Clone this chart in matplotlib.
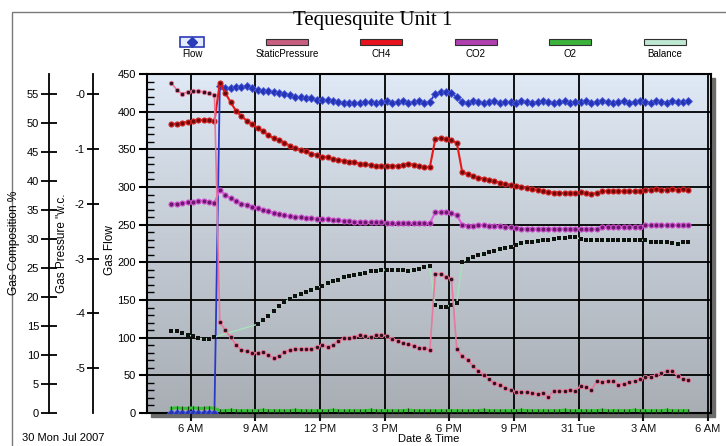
import numpy as np
import matplotlib.pyplot as plt
from matplotlib.patches import Rectangle
from matplotlib.lines import Line2D
from matplotlib.ticker import MultipleLocator
from matplotlib.colors import LinearSegmentedColormap

plt.rcParams['font.family'] = ['Liberation Sans', 'DejaVu Sans']

# samples every 15 min, hours counted from midnight 30 Jul 2007
start_hour = 5.1
step_hour = 0.25

flow = [0, 0, 0, 0, 0, 0, 0, 0, 0,
        434, 431, 432, 433, 433, 434, 431, 429, 428, 427, 426, 425, 424, 422, 420, 419, 418, 418, 416, 415, 415, 414, 413,
        412, 412, 411, 412, 413, 413, 412, 413, 414, 412, 413, 414, 412, 413, 414, 412, 413,
        424, 426, 426, 425, 419,
        413, 412, 414, 413, 412, 413, 414, 412, 413, 413, 412, 414, 413, 412, 413, 414, 413, 412, 413, 414,
        412, 413, 413, 414, 412, 413, 414, 413, 412, 413, 414, 412, 413, 414, 413, 412, 414, 413, 412, 414,
        413, 413, 414]

static_pressure = [0.21, 0.08, 0.01, 0.04, 0.06, 0.06, 0.04, 0.02, -0.01,
                   -4.16, -4.30, -4.43, -4.57, -4.67, -4.68, -4.72, -4.72, -4.70, -4.76,
                   -4.81, -4.78, -4.70, -4.67, -4.65, -4.65, -4.65, -4.65, -4.61, -4.57,
                   -4.61, -4.57, -4.50, -4.45, -4.45, -4.43, -4.39, -4.41, -4.43, -4.39,
                   -4.39, -4.41, -4.47, -4.50, -4.54, -4.56, -4.59, -4.63, -4.63, -4.67,
                   -3.28, -3.28, -3.33, -3.37,
                   -4.65, -4.78, -4.85, -4.96, -5.05, -5.12, -5.20, -5.27, -5.30, -5.36,
                   -5.40, -5.43, -5.43, -5.43, -5.45, -5.47, -5.45, -5.52, -5.41, -5.41,
                   -5.41, -5.40, -5.41, -5.32, -5.34, -5.40, -5.23, -5.25, -5.23, -5.23,
                   -5.30, -5.28, -5.25, -5.23, -5.20, -5.16, -5.16, -5.12, -5.09, -5.05,
                   -5.05, -5.14, -5.20, -5.21]

ch4 = [49.8, 49.9, 50.0, 50.2, 50.3, 50.5, 50.5, 50.5, 50.3,
       56.9, 55.2, 53.6, 52.1, 51.2, 50.4, 49.8, 49.1, 48.6, 47.9,
       47.4, 47.1, 46.6, 46.1, 45.7, 45.3, 45.1, 44.7, 44.5, 44.2,
       44.1, 43.8, 43.6, 43.5, 43.3, 43.2, 43.0, 42.9, 42.7, 42.6,
       42.6, 42.6, 42.6, 42.6, 42.8, 43.0, 42.8, 42.6, 42.4, 42.4,
       47.2, 47.4, 47.2, 47.0, 46.6,
       41.6, 41.2, 40.9, 40.6, 40.4, 40.2, 40.0, 39.7, 39.5, 39.3,
       39.1, 39.0, 38.8, 38.7, 38.4, 38.2, 38.1, 38.0, 38.0, 37.9,
       37.9, 37.9, 38.1, 37.9, 37.8, 37.9, 38.2, 38.3, 38.3, 38.2,
       38.3, 38.3, 38.2, 38.3, 38.5, 38.5, 38.6, 38.5, 38.5, 38.6,
       38.5, 38.6, 38.5]

co2 = [36.0, 36.1, 36.2, 36.3, 36.4, 36.6, 36.6, 36.4, 36.2,
       38.5, 37.6, 37.0, 36.6, 36.1, 35.9, 35.6, 35.3, 35.0, 34.8,
       34.5, 34.3, 34.1, 33.9, 33.8, 33.8, 33.7, 33.6, 33.5, 33.4,
       33.4, 33.3, 33.2, 33.1, 33.1, 33.0, 33.0, 32.9, 32.9, 32.9,
       32.9, 32.8, 32.7, 32.7, 32.8, 32.8, 32.8, 32.7, 32.7, 32.7,
       34.6, 34.7, 34.7, 34.4, 34.1,
       32.5, 32.2, 32.3, 32.4, 32.4, 32.3, 32.2, 32.2, 32.1, 32.0,
       31.9, 31.8, 31.8, 31.8, 31.8, 31.8, 31.8, 31.8, 31.8, 31.8,
       31.8, 31.8, 31.8, 31.7, 31.8, 31.8, 32.0, 32.1, 32.0, 32.1,
       32.0, 32.1, 32.1, 32.0, 32.4, 32.4, 32.4, 32.4, 32.4, 32.4,
       32.4, 32.4, 32.4]

o2 = [0.8, 0.9, 0.8, 0.8, 0.9, 0.8, 0.8, 0.9, 0.8,
      0.4, 0.4, 0.5, 0.4, 0.4, 0.4, 0.4, 0.4, 0.5, 0.4,
      0.4, 0.4, 0.4, 0.4, 0.5, 0.4, 0.4, 0.4, 0.4, 0.4,
      0.4, 0.5, 0.4, 0.4, 0.4, 0.4, 0.4, 0.4, 0.5, 0.4,
      0.4, 0.4, 0.4, 0.4, 0.4, 0.5, 0.4, 0.4, 0.4, 0.4,
      0.4, 0.4, 0.4, 0.4, 0.4,
      0.4, 0.4, 0.4, 0.4, 0.5, 0.4, 0.4, 0.4, 0.4, 0.4,
      0.4, 0.5, 0.4, 0.4, 0.4, 0.4, 0.4, 0.4, 0.4, 0.5,
      0.4, 0.4, 0.4, 0.4, 0.4, 0.4, 0.5, 0.4, 0.4, 0.4,
      0.4, 0.4, 0.5, 0.4, 0.4, 0.4, 0.4, 0.4, 0.5, 0.4,
      0.4, 0.4, 0.4]

nan = np.nan
balance = [14.1, 14.1, 13.8, 13.5, 13.2, 12.9, 12.8, 12.8, 13.1,
           nan, nan, nan, nan, nan, nan, nan,
           15.3, 16.0, 16.8, 17.6, 18.4, 19.1, 19.7, 20.1, 20.5, 20.9,
           21.2, 21.6, 21.9, 22.4, 22.7, 23.0, 23.4, 23.6, 23.8, 24.0,
           24.2, 24.4, 24.5, 24.6, 24.7, 24.7, 24.7, 24.6, 24.4, 24.6,
           24.9, 25.1, 25.3,
           18.6, 18.2, 18.3, 18.7, 19.0,
           26.0, 26.6, 26.9, 27.2, 27.5, 27.7, 27.9, 28.2, 28.4, 28.6,
           28.9, 29.3, 29.4, 29.5, 29.7, 29.8, 29.9, 30.0, 30.1, 30.2,
           30.3, 30.3, 30.0, 29.9, 29.8, 29.8, 29.9, 29.8, 29.8, 29.8,
           29.8, 29.9, 29.8, 29.8, 29.8, 29.5, 29.4, 29.4, 29.4, 29.3,
           29.1, 29.4, 29.4]

hours = start_hour + step_hour * np.arange(len(flow))

x_ticks = [6, 9, 12, 15, 18, 21, 24, 27, 30]
x_labels = ['6 AM', '9 AM', '12 PM', '3 PM', '6 PM', '9 PM', '31 Tue', '3 AM', '6 AM']
comp_ticks = list(range(0, 60, 5))
pres_ticks = [0, -1, -2, -3, -4, -5]
pres_labels = ['-0', '-1', '-2', '-3', '-4', '-5']

legend_names = ['Flow', 'StaticPressure', 'CH4', 'CO2', 'O2', 'Balance']
legend_colors = ['#e4eaff', '#c95f80', '#e8121c', '#b040b0', '#3cb43c', '#bfe8d2']

W, H = 726, 446
fig = plt.figure(figsize=(W / 100, H / 100), dpi=100)
fig.patch.set_facecolor('white')

ax_l, ax_b, ax_r, ax_t = 147, 413, 711, 74
ax = fig.add_axes([ax_l / W, 1 - ax_b / H, (ax_r - ax_l) / W, (ax_b - ax_t) / H])
xlim = (3.97, 30.15)

# background gradient
cmap = LinearSegmentedColormap.from_list('bg', ['#a9aeb5', '#c3cad3', '#dfe9f5'])
ax.imshow(np.linspace(0, 1, 256).reshape(-1, 1), cmap=cmap, origin='lower',
          extent=[xlim[0], xlim[1], 0, 450], aspect='auto', zorder=0)

# frame shadow + outer border
fig.add_artist(Rectangle(((ax_l + 4) / W, 1 - (ax_b + 4) / H), (ax_r - ax_l) / W, (ax_b - ax_t) / H,
                         transform=fig.transFigure, color='#6c6c6c', zorder=-1))
fig.add_artist(Rectangle((12 / W, -0.05), 1.0, 1.05 - 12 / H, transform=fig.transFigure,
                         fill=False, edgecolor='#7a7a7a', lw=1.0, zorder=-1))

ax.plot(hours, flow, color='#2a3ac8', lw=1.3, marker='D', ms=3.6,
        mfc='#2434b4', mec='#5060e0', mew=0.6, zorder=5)
ax.set_xlim(*xlim)
ax.set_ylim(0, 450)
ax.set_xticks(x_ticks)
ax.set_xticklabels(x_labels)
ax.yaxis.set_major_locator(MultipleLocator(50))
ax.yaxis.set_minor_locator(MultipleLocator(10))
ax.grid(True, color='black', lw=1.3)
ax.tick_params(axis='x', direction='out', length=6, width=1.5, labelsize=8, pad=2, colors='#111')
ax.tick_params(axis='y', which='major', direction='out', length=6, width=1.5, labelsize=8, pad=2)
ax.tick_params(axis='y', which='minor', direction='in', length=5, width=1)
for sp in ax.spines.values():
    sp.set_linewidth(1.5)
ax.set_xlabel('Date & Time', fontsize=8, labelpad=0)

# gas composition axis
ax_c = ax.twinx()
ax_c.set_ylim(0, 58.45)
ax_c.spines['left'].set_position(('axes', -0.174))
ax_c.yaxis.set_ticks_position('left')
for sp in ['top', 'right', 'bottom']:
    ax_c.spines[sp].set_visible(False)
ax_c.spines['left'].set_linewidth(1.3)
ax_c.set_yticks(comp_ticks)
ax_c.tick_params(axis='y', direction='inout', length=12, width=1.3, labelsize=8, pad=1)

ax_c.plot(hours, o2, color='#38c038', lw=2.2, marker='|', ms=3, mec='#1a3a1a', mew=0.8, zorder=3)
bal = np.array(balance)
ok = ~np.isnan(bal)
ax_c.plot(hours[ok], bal[ok], color='#a8e2bc', lw=1.0, marker='s', ms=2.6,
          mfc='#101010', mew=0, zorder=3)
ax_c.plot(hours, co2, color='#e060e0', lw=1.5, marker='o', ms=3.6,
          mfc='#6a1a6a', mec='#d050d0', mew=0.8, zorder=4)
ax_c.plot(hours, ch4, color='#e81818', lw=1.5, marker='o', ms=3.6,
          mfc='#6e0a0a', mec='#d82020', mew=0.8, zorder=4)

# gas pressure axis
ax_p = ax.twinx()
ax_p.set_ylim(-5.816, 0.37)
ax_p.spines['left'].set_position(('axes', -0.0964))
ax_p.yaxis.set_ticks_position('left')
for sp in ['top', 'right', 'bottom']:
    ax_p.spines[sp].set_visible(False)
ax_p.spines['left'].set_linewidth(1.3)
ax_p.set_yticks(pres_ticks)
ax_p.set_yticklabels(pres_labels)
ax_p.tick_params(axis='y', direction='inout', length=9, width=1.3, labelsize=8, pad=1)
ax_p.plot(hours, static_pressure, color='#e8789c', lw=1.2, marker='o', ms=3.2,
          mfc='#301018', mec='#e8789c', mew=0.6, zorder=4)

# axis titles
ymid = 1 - 243 / H
fig.text(14 / W, ymid, 'Gas Composition %', rotation=90, ha='center', va='center', fontsize=8.5)
fig.text(62 / W, ymid, 'Gas Pressure "w.c.', rotation=90, ha='center', va='center', fontsize=8.5)
fig.text(110 / W, 1 - 250 / H, 'Gas Flow', rotation=90, ha='center', va='center', fontsize=8.5)
fig.text(22 / W, 1 - 438 / H, '30 Mon Jul 2007', ha='left', va='center', fontsize=8)

fig.text(373 / W, 1 - 21 / H, 'Tequesquite Unit 1', family='Liberation Serif',
         fontsize=15, ha='center', va='center')

# legend row
centers = [192, 287, 381, 476, 570, 665]
for name, col, cx in zip(legend_names, legend_colors, centers):
    if name == 'Flow':
        fig.add_artist(Rectangle(((cx - 12) / W, 1 - 47 / H), 24 / W, 10 / H, transform=fig.transFigure,
                                 facecolor=col, edgecolor='#2a3ab8', lw=1.2))
        fig.add_artist(Line2D([cx / W], [1 - 42 / H], transform=fig.transFigure, marker='D',
                              ms=5, color='#2a3ab8', lw=0))
    else:
        fig.add_artist(Rectangle(((cx - 21) / W, 1 - 45 / H), 42 / W, 6 / H, transform=fig.transFigure,
                                 facecolor=col, edgecolor='#303030', lw=0.8))
    fig.text(cx / W, 1 - 54 / H, name, ha='center', va='center', fontsize=7)

fig.savefig('out.png', dpi=100)
